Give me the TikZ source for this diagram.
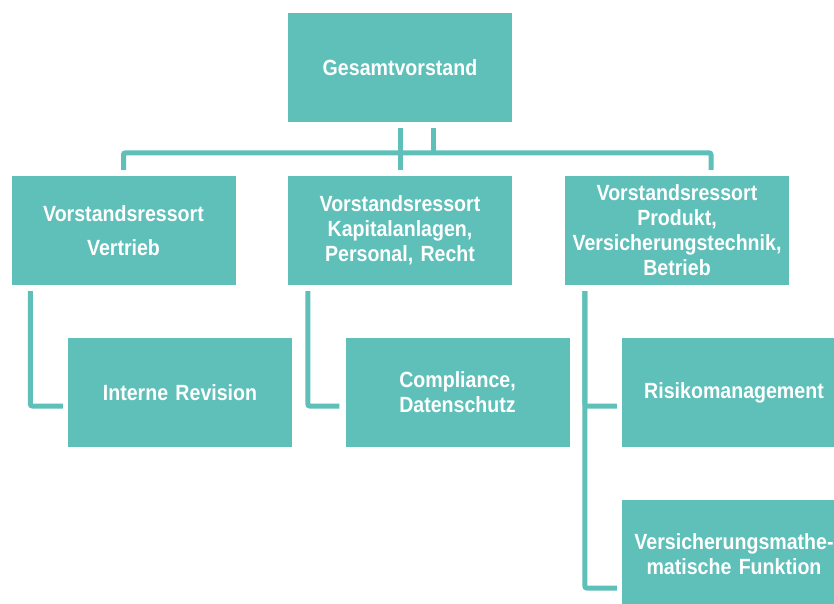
\documentclass[tikz,border=0pt]{standalone}
\usepackage{fontspec}
\setmainfont{Liberation Sans}[FakeStretch=0.89]
\usepackage{tikz}
\usetikzlibrary{positioning}
\definecolor{tuerkis}{RGB}{94,192,185}

\begin{document}
\begin{tikzpicture}[x=1pt,y=-1pt,
    kasten/.style={fill=tuerkis, text=white, minimum width=224pt, minimum height=109pt,
        inner sep=0pt, text width=220pt, align=center,
        font=\fontsize{22}{25}\selectfont\bfseries},
    linie/.style={draw=tuerkis, line width=5pt, rounded corners=2pt}]
    \useasboundingbox (0,0) rectangle (834,604);
    \clip (0,0) rectangle (834,604);

    \node [kasten] (gesamt) at (400,67.5) {Gesamtvorstand};
    \node [kasten] (vertrieb) at (123.5,230.5) {Vorstandsressort\\[9pt]Vertrieb};
    \node [kasten] (kapital) at (400,230.5) {Vorstandsressort\\Kapitalanlagen,\\Personal, Recht};
    \node [kasten] (produkt) at (677,230.5) {Vorstandsressort\\Produkt,\\Versicherungstechnik,\\Betrieb};
    \node [kasten] (revision) at (180,392.5) {Interne Revision};
    \node [kasten] (compliance) at (457.5,392.5) {Compliance,\\Datenschutz};
    \node [kasten] (risiko) at (734,392.5) {Risikomanagement};
    \node [kasten] (mathe) at (734,554.5) {Versicherungsmathe-\\matische Funktion};

    % obere Ebene
    \draw [linie] ([yshift=6pt]vertrieb.north) -- ++(0,-17) -| ([xshift=34pt,yshift=6pt]produkt.north);
    \draw [linie] ([yshift=-6pt]gesamt.south) -- ([yshift=6pt]kapital.north);
    \draw [linie] ([xshift=33pt,yshift=-6pt]gesamt.south) -- ++(0,25);

    % Stabsstellen
    \draw [linie] ([xshift=19pt,yshift=-6pt]vertrieb.south west) |- ([xshift=-5pt,yshift=-13.5pt]revision.west);
    \draw [linie] ([xshift=20pt,yshift=-6pt]kapital.south west) |- ([xshift=-6pt,yshift=-13.5pt]compliance.west);
    \draw [linie] ([xshift=20pt,yshift=-6pt]produkt.south west) |- ([xshift=-5pt,yshift=-33.5pt]mathe.west);
    \draw [linie] ([xshift=20pt,yshift=-6pt]produkt.south west) |- ([xshift=-5pt,yshift=-13.5pt]risiko.west);
\end{tikzpicture}
\end{document}
